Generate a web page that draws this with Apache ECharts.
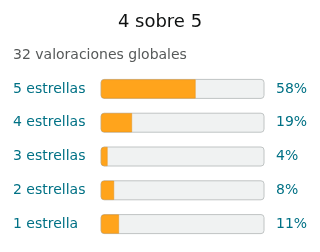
<!DOCTYPE html>
<html>
<head>
<meta charset="utf-8">
<script src="https://cdn.jsdelivr.net/npm/echarts@6/dist/echarts.min.js"></script>
<style>
  html, body { margin: 0; padding: 0; background: #fff; }
  #chart { width: 320px; height: 252px; }
</style>
</head>
<body>
<div id="chart"></div>
<script>
// datos
var categorias = ['5 estrellas', '4 estrellas', '3 estrellas', '2 estrellas', '1 estrella'];
var porcentajes = [58, 19, 4, 8, 11];
var etiquetas = ['58%', '19%', '4%', '8%', '11%'];

var myChart = echarts.init(document.getElementById('chart'));

var fuente = 'DejaVu Sans';

var option = {
    animation: false,
    title: [{
        text: '4 sobre 5',
        left: 'center',
        top: 8,
        textStyle: { fontFamily: fuente, fontSize: 18, fontWeight: 'normal', color: '#0f1111' }
    }, {
        text: '32 valoraciones globales',
        left: 8,
        top: 43,
        textStyle: { fontFamily: fuente, fontSize: 14, fontWeight: 'normal', color: '#565959' }
    }],
    grid: { left: 101, right: 56, top: 72, height: 169 },
    xAxis: {
        type: 'value',
        min: 0,
        max: 100,
        show: false
    },
    yAxis: [{
        type: 'category',
        data: categorias,
        inverse: true,
        axisLine: { show: false },
        axisTick: { show: false },
        axisLabel: {
            align: 'left',
            margin: 88,
            fontFamily: fuente,
            fontSize: 14,
            color: '#007185'
        }
    }, {
        type: 'category',
        data: etiquetas,
        inverse: true,
        position: 'right',
        axisLine: { show: false },
        axisTick: { show: false },
        axisLabel: {
            align: 'left',
            margin: 12,
            fontFamily: fuente,
            fontSize: 14,
            color: '#007185'
        }
    }],
    series: [{
        type: 'bar',
        data: porcentajes,
        barWidth: 19,
        showBackground: true,
        backgroundStyle: {
            color: '#f0f2f2',
            borderColor: '#c0c4c4',
            borderWidth: 1,
            borderRadius: 3
        },
        itemStyle: {
            color: '#ffa41c',
            borderColor: '#e3901a',
            borderWidth: 0.5,
            borderRadius: [3, 0, 0, 3]
        }
    }]
};

myChart.setOption(option);
</script>
</body>
</html>
